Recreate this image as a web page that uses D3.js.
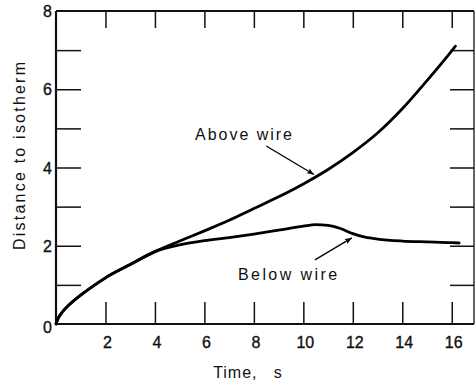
<!DOCTYPE html>
<html>
<head>
<meta charset="utf-8">
<script src="https://cdn.jsdelivr.net/npm/d3@7"></script>
<style>
  html, body { margin: 0; padding: 0; background: #fff; }
  svg { display: block; }
  text { font-family: "Liberation Sans", Arial, sans-serif; fill: #111; }
</style>
</head>
<body>
<svg id="chart" width="476" height="382"></svg>
<script>
// ---- data ----
const aboveTime = [0, 0.1, 0.25, 0.5, 1, 1.5, 2, 3, 4, 5, 6, 7, 8, 9, 10, 11, 12, 13, 14, 15, 16, 16.15];
const aboveDist = [0, 0.16, 0.3, 0.47, 0.74, 0.97, 1.18, 1.52, 1.85, 2.12, 2.38, 2.65, 2.95, 3.25, 3.58, 3.95, 4.38, 4.88, 5.5, 6.22, 6.98, 7.1];
const belowTime = [0, 0.1, 0.25, 0.5, 1, 1.5, 2, 3, 4, 5, 6, 7, 8, 9, 10, 10.5, 11, 11.5, 12, 12.5, 13, 14, 15, 16, 16.3];
const belowDist = [0, 0.16, 0.3, 0.47, 0.74, 0.97, 1.18, 1.52, 1.85, 2.02, 2.13, 2.21, 2.3, 2.4, 2.5, 2.54, 2.52, 2.44, 2.31, 2.22, 2.17, 2.12, 2.1, 2.08, 2.07];
const xTicks = [2, 4, 6, 8, 10, 12, 14, 16];
const xTickLabels = ["2", "4", "6", "8", "10", "12", "14", "16"];
const yTicks = [1, 2, 3, 4, 5, 6, 7];
const yLabelValues = [0, 2, 4, 6, 8];
const yTickLabels = ["0", "2", "4", "6", "8"];
const xTitle = "Time,   s";
const yTitle = "Distance to isotherm";
// annotation anchors in data units
const annLabels = ["Above wire", "Below wire"];
const annTextAt = [[5.62, 4.7], [7.36, 1.13]];
const annArrowFrom = [[8.5, 4.55], [10.47, 1.64]];
const annArrowTo = [[10.43, 3.82], [11.96, 2.2]];

// ---- layout ----
const svg = d3.select("#chart");
const x = d3.scaleLinear().domain([0, 16.9]).range([56, 474]);
const y = d3.scaleLinear().domain([0, 8]).range([324, 11]);

const g = svg.append("g");

// frame
g.append("line").attr("x1", x(0)).attr("x2", x(16.9)).attr("y1", y(0)).attr("y2", y(0))
  .attr("stroke", "#111").attr("stroke-width", 2.2);
g.append("line").attr("x1", x(0)).attr("x2", x(16.9)).attr("y1", y(8)).attr("y2", y(8))
  .attr("stroke", "#111").attr("stroke-width", 2);
g.append("line").attr("x1", x(0)).attr("x2", x(0)).attr("y1", y(0)).attr("y2", y(8))
  .attr("stroke", "#111").attr("stroke-width", 2.2);
g.append("line").attr("x1", x(16.9)).attr("x2", x(16.9)).attr("y1", y(0)).attr("y2", y(8))
  .attr("stroke", "#222").attr("stroke-width", 1.4);

// ticks via axes (inward)
const axBottom = g.append("g").attr("transform", `translate(0,${y(0)})`)
  .call(d3.axisBottom(x).tickValues(xTicks).tickSize(-22).tickFormat(""));
const axTop = g.append("g").attr("transform", `translate(0,${y(8)})`)
  .call(d3.axisTop(x).tickValues(xTicks).tickSize(-17).tickFormat(""));
const axLeft = g.append("g").attr("transform", `translate(${x(0)},0)`)
  .call(d3.axisLeft(y).tickValues(yTicks).tickSize(-25).tickFormat(""));
const axRight = g.append("g").attr("transform", `translate(${x(16.9)},0)`)
  .call(d3.axisRight(y).tickValues(yTicks).tickSize(-24).tickFormat(""));
[axBottom, axTop, axLeft, axRight].forEach(a => {
  a.select(".domain").remove();
  a.selectAll(".tick line").attr("stroke", "#111").attr("stroke-width", 1.5);
});

// tick labels
g.selectAll(".xlab").data(xTicks).enter().append("text")
  .attr("x", d => x(d) + 2).attr("y", 348)
  .attr("text-anchor", "middle").attr("font-size", 16)
  .attr("stroke", "#111").attr("stroke-width", 0.35)
  .text((d, i) => xTickLabels[i]);
g.selectAll(".ylab").data(yLabelValues).enter().append("text")
  .attr("x", x(0) - 4).attr("y", d => y(d) + 6 + (d === 0 ? 3 : 0))
  .attr("text-anchor", "end").attr("font-size", 16)
  .attr("stroke", "#111").attr("stroke-width", 0.35)
  .text((d, i) => yTickLabels[i]);

// titles
g.append("text").attr("x", 248).attr("y", 378).attr("text-anchor", "middle")
  .attr("font-size", 16).style("white-space", "pre").attr("letter-spacing", 1).text(xTitle);
g.append("text").attr("transform", `translate(25,${156}) rotate(-90)`)
  .attr("text-anchor", "middle").attr("font-size", 16)
  .attr("textLength", 188).attr("lengthAdjust", "spacing").text(yTitle);

// curves
const line = d3.line().x(d => x(d[0])).y(d => y(d[1])).curve(d3.curveMonotoneX);
const aboveData = aboveTime.map((t, i) => [t, aboveDist[i]]);
const belowData = belowTime.map((t, i) => [t, belowDist[i]]);
g.append("path").datum(aboveData).attr("d", line).attr("fill", "none")
  .attr("stroke", "#000").attr("stroke-width", 2.8).attr("stroke-linecap", "round");
g.append("path").datum(belowData).attr("d", line).attr("fill", "none")
  .attr("stroke", "#000").attr("stroke-width", 2.8).attr("stroke-linecap", "round");

// arrowhead marker
svg.append("defs").append("marker").attr("id", "ah")
  .attr("viewBox", "0 0 10 10").attr("refX", 10).attr("refY", 5)
  .attr("markerWidth", 10).attr("markerHeight", 7).attr("markerUnits", "userSpaceOnUse")
  .attr("orient", "auto")
  .append("path").attr("d", "M0,1 L10,5 L0,9 L2,5 Z").attr("fill", "#000");

// annotations
annLabels.forEach((lab, i) => {
  g.append("text").attr("x", x(annTextAt[i][0])).attr("y", y(annTextAt[i][1]))
    .attr("font-size", 16).attr("textLength", i === 0 ? 97 : 99).attr("lengthAdjust", "spacing")
    .text(lab);
  g.append("line")
    .attr("x1", x(annArrowFrom[i][0])).attr("y1", y(annArrowFrom[i][1]))
    .attr("x2", x(annArrowTo[i][0])).attr("y2", y(annArrowTo[i][1]))
    .attr("stroke", "#000").attr("stroke-width", 1.3).attr("marker-end", "url(#ah)");
});
</script>
</body>
</html>
